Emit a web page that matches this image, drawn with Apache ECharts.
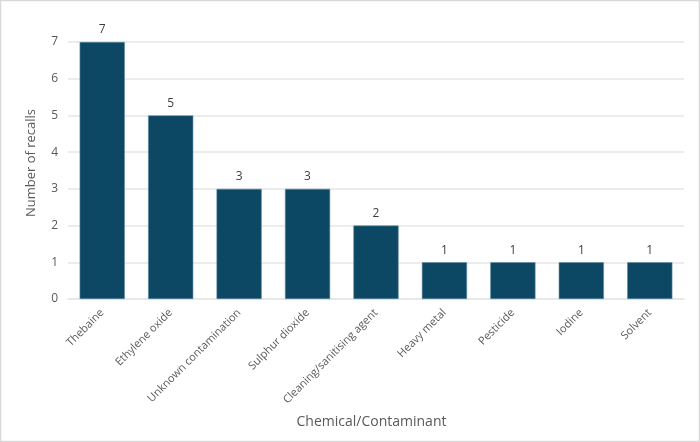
<!DOCTYPE html>
<html><head><meta charset="utf-8">
<script src="https://cdn.jsdelivr.net/npm/echarts@6/dist/echarts.min.js"></script>
<style>html,body{margin:0;padding:0;background:#fff}#c{width:700px;height:442px}</style>
</head><body><div id="c"></div>
<script>
const categories = ["Thebaine","Ethylene oxide","Unknown contamination","Sulphur dioxide","Cleaning/sanitising agent","Heavy metal","Pesticide","Iodine","Solvent"];
const recalls = [7,5,3,3,2,1,1,1,1];
const yTicks = [0,1,2,3,4,5,6,7];

const chart = echarts.init(document.getElementById('c'), null, {renderer:'canvas'});
const font = '"Open Sans", sans-serif';
chart.setOption({
  animation:false,
  graphic:[{type:'rect',shape:{x:0.5,y:0.5,width:699,height:441},style:{fill:'none',stroke:'#d9d9d9',lineWidth:1.5}}],
  grid:{left:68,right:16,top:42,bottom:143},
  xAxis:{type:'category',data:categories,
    axisLine:{show:true,lineStyle:{color:'#e6e6e6',width:1.5}},axisTick:{show:false},
    axisLabel:{rotate:45,color:'#595959',fontFamily:font,fontSize:11,margin:12,interval:0},
    name:'Chemical/Contaminant',nameLocation:'middle',nameGap:116,
    nameTextStyle:{color:'#595959',fontFamily:font,fontSize:14,padding:[0,9,0,0]}},
  yAxis:{type:'value',min:yTicks[0],max:yTicks[yTicks.length-1],interval:1,
    axisLine:{show:false},axisTick:{show:false},
    splitLine:{lineStyle:{color:'#e6e6e6',width:1.5}},
    axisLabel:{color:'#595959',fontFamily:font,fontSize:12,margin:10},
    name:'Number of recalls',nameLocation:'middle',nameGap:30,
    nameTextStyle:{color:'#595959',fontFamily:font,fontSize:13,padding:[0,0,0,15]}},
  series:[{type:'bar',data:recalls,barWidth:'66%',
    itemStyle:{color:'#0c4764',borderColor:'#5e8aa0',borderWidth:0.6},
    label:{show:true,position:'top',color:'#404040',fontFamily:font,fontSize:12,distance:6}}]
});
</script></body></html>
